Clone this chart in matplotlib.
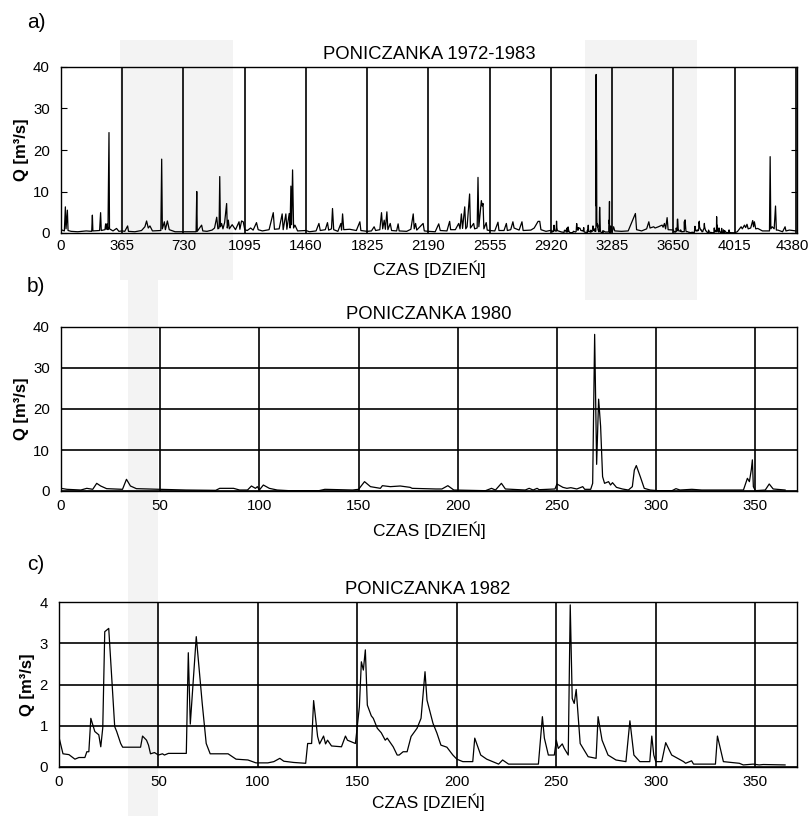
import matplotlib
matplotlib.use("Agg")
import matplotlib.pyplot as plt
from matplotlib.patches import Rectangle

plt.rcParams.update({
    "font.family": ["Liberation Sans", "DejaVu Sans"],
    "font.size": 10,
})

# ---- 1980 daily discharge (key points) ----
B_DAY = [0, 3, 10, 13, 16, 18, 20, 23, 31, 33, 35, 38, 50, 63, 78, 80, 87, 90, 94,
         96, 98, 99, 100, 102, 105, 109, 115, 130, 133, 147, 150, 153, 156, 161, 162,
         166, 171, 176, 177, 189, 192, 195, 198, 214, 217, 219, 222, 224, 234, 236,
         238, 240, 241, 249, 250, 253, 255, 257, 260, 263, 264, 267, 268, 269, 270,
         271, 272, 273, 274, 276, 277, 278, 280, 283, 286, 288, 289, 290, 292, 294,
         297, 301, 308, 310, 312, 318, 323, 344, 346, 347, 348, 348.5, 349, 350, 355,
         357, 359, 365]
B_Q = [0.65, 0.41, 0.24, 0.65, 0.41, 1.87, 1.22, 0.57, 0.41, 2.85, 1.22, 0.57, 0.41,
       0.24, 0.16, 0.65, 0.65, 0.24, 0.24, 1.22, 0.65, 1.06, 0.24, 1.46, 0.65, 0.24,
       0.08, 0.08, 0.41, 0.24, 0.41, 2.28, 1.06, 0.65, 1.3, 1.06, 1.22, 0.89, 0.65,
       0.49, 0.49, 1.3, 0.24, 0.08, 0.65, 0.24, 1.87, 0.49, 0.24, 0.65, 0.24, 0.65,
       0.32, 0.49, 1.71, 0.89, 0.65, 0.81, 0.49, 1.06, 0.41, 0.41, 1.87, 38.2, 6.5,
       22.4, 15.8, 3.5, 1.87, 2.28, 1.46, 2.03, 0.89, 0.49, 0.24, 1.06, 5.1, 6.2, 3.5,
       0.65, 0.24, 0.08, 0.08, 0.57, 0.24, 0.41, 0.24, 0.24, 3.1, 2.28, 5.3, 7.6,
       1.06, 0.08, 0.24, 1.71, 0.49, 0.24]

# ---- 1982 daily discharge (key points) ----
C_DAY = [0, 2, 5, 8, 10, 13, 14, 15, 16, 18, 20, 21, 22, 23, 25, 28, 29, 31, 32, 41,
         42, 44, 45, 46, 48, 50, 52, 53, 55, 64, 65, 66, 69, 72, 74, 76, 85, 89, 95,
         99, 105, 108, 111, 113, 118, 124, 125, 127, 128, 130, 131, 133, 134, 135, 137,
         142, 144, 145, 149, 149.5, 151, 152, 153, 154, 155, 157, 158, 160, 162, 164,
         165, 168, 170, 171, 173, 175, 177, 180, 182, 184, 185, 188, 190, 192, 195,
         198, 200, 203, 208, 209, 212, 215, 217, 221, 223, 226, 241, 243, 244, 246,
         249, 250, 251, 253, 254, 256, 257, 258, 259, 260, 262, 264, 266, 270, 271,
         273, 276, 280, 285, 287, 289, 292, 297, 298, 299, 300, 303, 305, 308, 314,
         315, 318, 319, 330, 331, 334, 342, 344, 349, 352, 354, 365]
C_Q = [0.72, 0.32, 0.3, 0.19, 0.23, 0.23, 0.37, 0.37, 1.18, 0.86, 0.78, 0.49, 0.95,
       3.28, 3.36, 0.98, 0.86, 0.57, 0.48, 0.48, 0.75, 0.65, 0.53, 0.32, 0.35, 0.29,
       0.32, 0.29, 0.33, 0.33, 2.77, 1.04, 3.16, 1.54, 0.57, 0.32, 0.32, 0.19, 0.17,
       0.1, 0.1, 0.13, 0.21, 0.14, 0.11, 0.09, 0.57, 0.57, 1.61, 0.74, 0.56, 0.75,
       0.56, 0.65, 0.51, 0.49, 0.75, 0.65, 0.57, 0.78, 1.46, 2.55, 2.35, 2.84, 1.5,
       1.24, 1.18, 0.94, 0.83, 0.65, 0.7, 0.49, 0.29, 0.29, 0.37, 0.37, 0.74, 0.94,
       1.18, 2.31, 1.62, 1.06, 0.82, 0.53, 0.48, 0.29, 0.19, 0.13, 0.13, 0.7, 0.29,
       0.19, 0.15, 0.07, 0.17, 0.07, 0.07, 1.22, 0.7, 0.29, 0.29, 0.65, 0.45, 0.56,
       0.45, 0.29, 3.93, 1.66, 1.54, 1.88, 0.57, 0.41, 0.25, 0.21, 1.22, 0.65, 0.29,
       0.17, 0.13, 1.12, 0.29, 0.13, 0.13, 0.75, 0.29, 0.13, 0.13, 0.59, 0.29, 0.13,
       0.09, 0.15, 0.07, 0.07, 0.75, 0.13, 0.09, 0.05, 0.07, 0.05, 0.06, 0.05]

# ---- 1972-1983 record (key points, other years) ----
A_1972_1979 = [
    (0, 0.8), (20, 0.5), (26, 6.3), (30, 1.0), (38, 5.5), (42, 0.6), (60, 0.4),
    (100, 0.3), (150, 0.5), (183, 0.4), (187, 4.3), (190, 0.5), (230, 0.6),
    (236, 4.9), (240, 0.6), (262, 0.8), (266, 2.2), (270, 0.9), (274, 2.2),
    (280, 0.8), (286, 24.2), (289, 1.0), (310, 0.5), (331, 1.1), (345, 0.4),
    (365, 0.5),
    (380, 0.4), (397, 1.7), (402, 0.4), (440, 0.3), (480, 0.6), (500, 1.5),
    (510, 2.9), (520, 1.2), (530, 1.7), (545, 0.5), (595, 0.6), (600, 17.8),
    (604, 1.0), (616, 2.7), (622, 0.8), (634, 2.9), (645, 0.8), (680, 0.3),
    (730, 0.3),
    (770, 0.3), (805, 0.3), (809, 10.0), (812, 0.4), (838, 1.9), (845, 0.5),
    (870, 0.4), (900, 0.7), (915, 1.2), (928, 3.8), (935, 1.0), (942, 1.2),
    (946, 13.6), (950, 1.5), (957, 2.3), (965, 1.0), (975, 2.5), (987, 7.1),
    (991, 1.2), (997, 3.1), (1003, 1.0), (1020, 2.0), (1040, 0.8), (1061, 2.7),
    (1066, 0.9), (1076, 2.9), (1086, 2.7), (1095, 0.8),
    (1110, 0.6), (1130, 1.2), (1145, 0.7), (1165, 2.5), (1175, 0.8), (1200, 0.5),
    (1240, 0.8), (1265, 4.9), (1272, 0.9), (1300, 1.0), (1318, 4.6), (1324, 0.8),
    (1340, 4.6), (1346, 0.9), (1360, 4.7), (1365, 1.2), (1370, 11.3), (1374, 2.0),
    (1380, 15.2), (1386, 1.2), (1394, 1.9), (1410, 0.5), (1460, 0.6),
    (1480, 0.3), (1520, 0.5), (1537, 2.3), (1545, 0.6), (1575, 0.8), (1588, 2.5),
    (1595, 0.7), (1612, 1.0), (1618, 5.9), (1625, 0.8), (1650, 0.4), (1668, 2.3),
    (1672, 0.7), (1678, 4.6), (1685, 0.8), (1720, 0.9), (1760, 0.6), (1781, 2.7),
    (1787, 0.6), (1825, 0.4),
    (1850, 0.5), (1866, 1.5), (1875, 0.6), (1900, 0.8), (1910, 4.9), (1917, 1.0),
    (1926, 3.1), (1933, 0.9), (1942, 5.1), (1948, 0.8), (1962, 2.3), (1970, 0.6),
    (2000, 0.5), (2009, 2.2), (2015, 0.5), (2060, 0.4), (2085, 0.9), (2099, 4.6),
    (2105, 1.0), (2113, 2.3), (2120, 0.7), (2158, 2.3), (2165, 0.5), (2190, 0.4),
    (2230, 0.3), (2251, 2.2), (2260, 0.6), (2300, 0.5), (2316, 2.8), (2322, 0.8),
    (2350, 0.8), (2370, 2.3), (2378, 1.0), (2386, 4.6), (2393, 1.1), (2406, 6.3),
    (2412, 1.0), (2420, 1.5), (2435, 9.4), (2440, 1.2), (2459, 2.3), (2465, 1.0),
    (2480, 1.2), (2485, 13.4), (2490, 1.5), (2505, 7.8), (2510, 6.5), (2515, 7.1),
    (2520, 1.0), (2534, 2.5), (2540, 0.7), (2555, 0.6),
    (2585, 0.5), (2604, 2.6), (2610, 0.6), (2640, 0.6), (2654, 2.3), (2660, 0.6),
    (2680, 0.8), (2693, 2.7), (2700, 1.2), (2730, 0.7), (2747, 2.7), (2754, 0.6),
    (2800, 0.7), (2820, 1.2), (2843, 2.8), (2853, 2.8), (2860, 0.8), (2890, 0.4),
]
A_1981 = [
    (3293, 1.5), (3300, 0.5), (3340, 0.4), (3380, 0.5), (3423, 4.7), (3430, 0.8),
    (3460, 0.5), (3490, 1.0), (3503, 2.7), (3510, 1.2), (3532, 1.5), (3540, 1.2),
    (3560, 1.5), (3582, 1.9), (3588, 1.4), (3596, 2.3), (3603, 1.0), (3612, 3.7),
    (3618, 0.8),
]
A_1983 = [
    (4030, 0.3), (4053, 1.5), (4060, 1.0), (4073, 1.9), (4080, 1.3), (4088, 2.1),
    (4095, 1.0), (4110, 1.2), (4122, 3.0), (4127, 1.5), (4132, 2.7), (4140, 1.0),
    (4152, 1.1), (4180, 0.5), (4222, 0.5), (4226, 18.4), (4230, 1.0), (4238, 1.5),
    (4250, 1.0), (4258, 6.5), (4263, 0.7), (4272, 0.7), (4300, 0.3), (4315, 1.5),
    (4320, 0.5), (4341, 0.7), (4380, 0.5),
]
START_1980 = 2920
START_1982 = 3650

YEAR_TICKS = [0, 365, 730, 1095, 1460, 1825, 2190, 2555, 2920, 3285, 3650, 4015, 4380]
DAY_TICKS = [0, 50, 100, 150, 200, 250, 300, 350]

TITLES = ["PONICZANKA 1972-1983", "PONICZANKA 1980", "PONICZANKA 1982"]
LETTERS = ["a)", "b)", "c)"]
XLABEL = "CZAS [DZIEŃ]"
YLABEL = "Q [m³/s]"

W, H = 810, 816


def frac(l, t, r, b):
    return [l / W, 1 - b / H, (r - l) / W, (b - t) / H]


fig = plt.figure(figsize=(8.1, 8.16), dpi=100)

# faint watermark in the background (pixel boxes)
wm = "#f3f3f3"
for (x0, y0, x1, y1) in [(120, 40, 233, 280), (585, 40, 697, 300), (128, 280, 158, 816)]:
    fig.add_artist(Rectangle((x0 / W, 1 - y1 / H), (x1 - x0) / W, (y1 - y0) / H,
                             transform=fig.transFigure, facecolor=wm,
                             edgecolor="none", zorder=-1))

# assemble the full record
a_days = [d for d, q in A_1972_1979]
a_q = [q for d, q in A_1972_1979]
a_days += [START_1980 + d for d in B_DAY]
a_q += B_Q
a_days += [d for d, q in A_1981]
a_q += [q for d, q in A_1981]
a_days += [START_1982 + d for d in C_DAY]
a_q += C_Q
a_days += [d for d, q in A_1983]
a_q += [q for d, q in A_1983]

ax_a = fig.add_axes(frac(61, 67, 797, 233))
ax_b = fig.add_axes(frac(61, 327, 797, 491))
ax_c = fig.add_axes(frac(59, 602, 797, 767))

ax_a.plot(a_days, a_q, color="black", lw=0.9)
ax_a.set_xlim(0, 4386)
ax_a.set_ylim(0, 40)
ax_a.set_xticks(YEAR_TICKS)
# last label is drawn separately, nudged left so it stays inside the figure
ax_a.set_xticklabels([str(t) for t in YEAR_TICKS[:-1]] + [""])
ax_a.annotate(str(YEAR_TICKS[-1]), xy=(YEAR_TICKS[-1], 0),
              xycoords=("data", "axes fraction"), xytext=(-3, -4),
              textcoords="offset points", ha="center", va="top", fontsize=10.8)
ax_a.set_yticks([0, 10, 20, 30, 40])
for x in YEAR_TICKS[1:]:
    ax_a.axvline(x, color="black", lw=1.2, zorder=1)
ax_a.tick_params(axis="y", direction="in", left=True, right=True, length=4)
ax_a.tick_params(axis="x", length=0, pad=4)

ax_b.plot(B_DAY, B_Q, color="black", lw=0.9)
ax_b.set_xlim(0, 371)
ax_b.set_ylim(0, 40)
ax_b.set_yticks([0, 10, 20, 30, 40])

ax_c.plot(C_DAY, C_Q, color="black", lw=0.9)
ax_c.set_xlim(0, 371)
ax_c.set_ylim(0, 4)
ax_c.set_yticks([0, 1, 2, 3, 4])

for ax in (ax_b, ax_c):
    ax.set_xticks(DAY_TICKS)
    ax.grid(True, color="black", lw=1.2)
    ax.tick_params(length=0)
    ax.tick_params(axis="x", pad=6)

for ax, title, lp in zip((ax_a, ax_b, ax_c), TITLES, (6, 6, 3)):
    ax.set_facecolor("none")
    ax.set_title(title, fontsize=13.3, pad=6)
    ax.set_xlabel(XLABEL, fontsize=12.5, labelpad=lp)
    ax.set_ylabel(YLABEL, fontsize=12, fontweight="bold", labelpad=3)
    ax.tick_params(labelsize=10.8)
    ax.tick_params(axis="y", pad=8)
    for s in ax.spines.values():
        s.set_linewidth(1.0)

for letter, y in zip(LETTERS, [23, 286, 564]):
    fig.text(36 / W, 1 - y / H, letter, fontsize=15, ha="center", va="center")

fig.savefig("out.png", dpi=100)
